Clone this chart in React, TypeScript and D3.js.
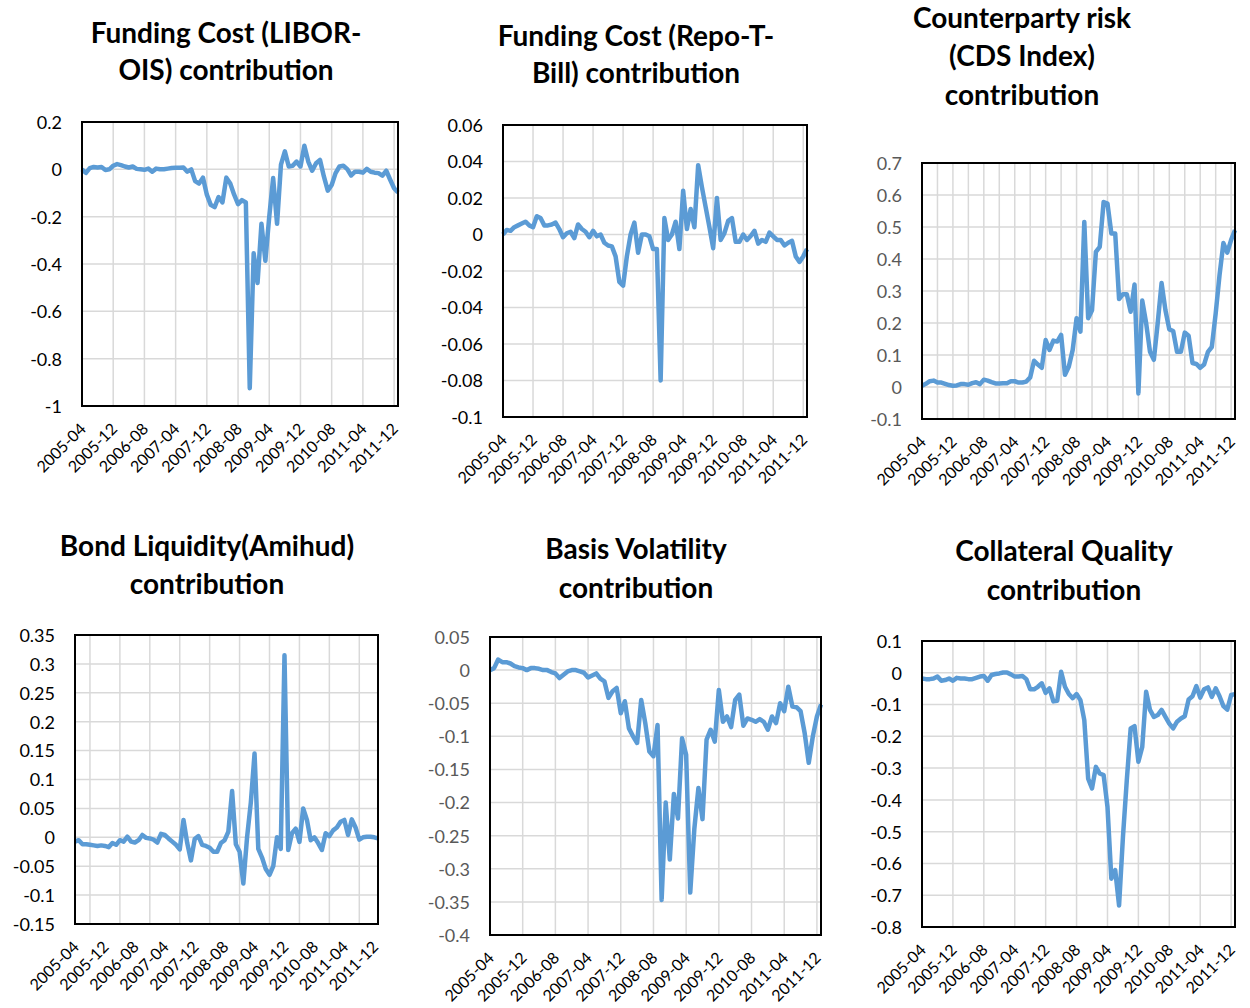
import React, { useEffect, useRef } from "react";
import * as d3 from "d3";

// monthly observations, 2005-04 .. 2012-01
const xTickLabels = [
  "2005-04", "2005-12", "2006-08", "2007-04", "2007-12", "2008-08",
  "2009-04", "2009-12", "2010-08", "2011-04", "2011-12",
];

const liborOis = [
  0, -0.015, 0.005, 0.01, 0.008, 0.01, -0.003, 0.0, 0.015, 0.022,
  0.018, 0.012, 0.008, 0.012, 0.002, 0.0, -0.002, 0.003, -0.01, 0.003,
  0.0, 0.0, 0.003, 0.006, 0.007, 0.007, 0.008, -0.01, 0.0, -0.05,
  -0.06, -0.035, -0.107, -0.15, -0.16, -0.117, -0.14, -0.035, -0.06, -0.107,
  -0.147, -0.13, -0.14, -0.925, -0.355, -0.48, -0.23, -0.386, -0.2, -0.037,
  -0.23, 0.02, 0.076, 0.012, 0.015, 0.033, 0.012, 0.1, 0.033, -0.006,
  0.026, 0.04, -0.03, -0.09, -0.066, -0.016, 0.012, 0.015, 0.001, -0.026,
  -0.01, -0.01, -0.014, 0.002, -0.01, -0.014, -0.016, -0.027, -0.006, -0.044,
  -0.08, -0.098,
];

const repoTbill = [
  0.0, 0.0025, 0.002, 0.004, 0.005, 0.006, 0.007, 0.005, 0.004, 0.01,
  0.009, 0.005, 0.005, 0.0055, 0.0065, 0.003, -0.0015, 0.0007, 0.0015, -0.002,
  0.0055, 0.003, 0.0015, -0.0015, 0.002, -0.001, 0.0, -0.0045, -0.006, -0.0065,
  -0.012, -0.026, -0.028, -0.012, 0.0, 0.0065, -0.01, 0.0, 0.0, -0.001,
  -0.008, -0.008, -0.08, 0.009, -0.003, 0.0, 0.007, -0.008, 0.024, 0.003,
  0.014, 0.004, 0.038, 0.026, 0.015, 0.004, -0.0075, 0.02, -0.003, 0.0007,
  0.0075, 0.009, -0.004, -0.004, 0.0, -0.003, -0.0008, 0.002, -0.005, -0.003,
  -0.004, 0.001, -0.001, -0.003, -0.003, -0.006, -0.0045, -0.0035, -0.012, -0.015,
  -0.012, -0.008,
];

const cdsIndex = [
  0.004, 0.01, 0.018, 0.02, 0.014, 0.014, 0.01, 0.006, 0.004, 0.005,
  0.009, 0.009, 0.007, 0.012, 0.015, 0.009, 0.023, 0.02, 0.015, 0.011,
  0.011, 0.012, 0.012, 0.018, 0.018, 0.014, 0.014, 0.017, 0.03, 0.082,
  0.07, 0.06, 0.147, 0.116, 0.145, 0.142, 0.163, 0.038, 0.064, 0.116,
  0.215, 0.173, 0.516, 0.215, 0.24, 0.422, 0.438, 0.578, 0.573, 0.48,
  0.48, 0.275, 0.29, 0.29, 0.235, 0.32, -0.02, 0.27, 0.2, 0.11,
  0.085, 0.2, 0.325, 0.24, 0.18, 0.175, 0.11, 0.11, 0.17, 0.16,
  0.075, 0.072, 0.06, 0.07, 0.11, 0.125, 0.23, 0.35, 0.45, 0.42,
  0.46, 0.49,
];

const amihud = [
  -0.0075, -0.005, -0.012, -0.012, -0.013, -0.014, -0.015, -0.014, -0.015, -0.017,
  -0.01, -0.013, -0.005, -0.0075, 0.001, -0.0075, -0.009, -0.005, 0.004, -0.001,
  -0.002, -0.004, -0.009, 0.006, 0.004, -0.002, -0.0075, -0.013, -0.021, 0.03,
  -0.01, -0.04, -0.003, 0.002, -0.013, -0.015, -0.018, -0.025, -0.025, -0.01,
  -0.005, 0.01, 0.08, -0.012, -0.025, -0.08, 0.0, 0.06, 0.145, -0.02,
  -0.035, -0.055, -0.065, -0.05, 0.0, -0.02, 0.315, -0.022, 0.007, 0.015,
  -0.008, 0.05, 0.03, -0.005, 0.0, -0.01, -0.022, 0.007, 0.002, 0.012,
  0.017, 0.027, 0.03, 0.004, 0.031, 0.017, -0.004, 0.0, 0.001, 0.001,
  0.0, -0.002,
];

const basisVol = [
  0.0, 0.003, 0.016, 0.012, 0.012, 0.01, 0.006, 0.004, 0.003, 0.0,
  0.003, 0.003, 0.002, 0.0, 0.0, -0.003, -0.005, -0.012, -0.007, -0.002,
  0.0, 0.0, -0.002, -0.004, -0.011, -0.008, -0.005, -0.013, -0.017, -0.042,
  -0.032, -0.027, -0.065, -0.047, -0.088, -0.1, -0.11, -0.045, -0.08, -0.123,
  -0.13, -0.083, -0.347, -0.2, -0.286, -0.187, -0.224, -0.103, -0.128, -0.336,
  -0.24, -0.178, -0.225, -0.105, -0.09, -0.108, -0.03, -0.078, -0.07, -0.086,
  -0.045, -0.037, -0.084, -0.073, -0.075, -0.078, -0.074, -0.078, -0.09, -0.07,
  -0.08, -0.05, -0.062, -0.025, -0.055, -0.056, -0.062, -0.095, -0.14, -0.1,
  -0.07, -0.052,
];

const collateral = [
  -0.018, -0.02, -0.02, -0.018, -0.012, -0.025, -0.023, -0.018, -0.025, -0.016,
  -0.018, -0.018, -0.02, -0.02, -0.016, -0.012, -0.01, -0.025, -0.007, -0.004,
  -0.002, 0.001, 0.001, -0.005, -0.012, -0.012, -0.01, -0.02, -0.052, -0.052,
  -0.044, -0.033, -0.063, -0.049, -0.09, -0.088, 0.003, -0.044, -0.067, -0.08,
  -0.067, -0.086, -0.149, -0.333, -0.364, -0.296, -0.317, -0.322, -0.422, -0.648,
  -0.621, -0.732, -0.517, -0.338, -0.175, -0.168, -0.28, -0.233, -0.06, -0.117,
  -0.139, -0.133, -0.117, -0.139, -0.16, -0.175, -0.154, -0.144, -0.137, -0.084,
  -0.074, -0.042, -0.078, -0.052, -0.046, -0.076, -0.049, -0.074, -0.105, -0.116,
  -0.07, -0.067,
];

const FONT = "Lato, 'Open Sans', sans-serif";

const charts = [
  { title: ["Funding Cost (LIBOR-", "OIS) contribution"], tx: 226, ty: [43, 80],
    values: liborOis, box: [82, 398, 122, 406], y: [-1, 0.2], step: 0.2,
    grid: 8, gridOff: 0, labelColor: "#000" },
  { title: ["Funding Cost (Repo-T-", "Bill) contribution"], tx: 636, ty: [46, 83],
    values: repoTbill, box: [503, 807, 125, 417], y: [-0.1, 0.06], step: 0.02,
    grid: 8, gridOff: 0, labelColor: "#000" },
  { title: ["Counterparty risk", "(CDS Index)", "contribution"], tx: 1022, ty: [28, 66, 105],
    values: cdsIndex, box: [922, 1235, 163, 419], y: [-0.1, 0.7], step: 0.1,
    grid: 4, gridOff: 0, labelColor: "#595959" },
  { title: ["Bond Liquidity(Amihud)", "contribution"], tx: 207, ty: [556, 594],
    values: amihud, box: [75, 378, 635, 924], y: [-0.15, 0.35], step: 0.05,
    grid: 8, gridOff: 4, labelColor: "#000" },
  { title: ["Basis Volatility", "contribution"], tx: 636, ty: [559, 598],
    values: basisVol, box: [490, 821, 637, 935], y: [-0.4, 0.05], step: 0.05,
    grid: 8, gridOff: 0, labelColor: "#595959" },
  { title: ["Collateral Quality", "contribution"], tx: 1064, ty: [561, 600],
    values: collateral, box: [922, 1235, 641, 927], y: [-0.8, 0.1], step: 0.1,
    grid: 8, gridOff: 0, labelColor: "#000" },
];

const App = () => {
  const svgRef = useRef<SVGSVGElement>(null);

  useEffect(() => {
    const svg = d3.select(svgRef.current);
    svg.selectAll("*").remove();

    charts.forEach((c) => {
      const [left, right, top, bottom] = c.box;
      const g = svg.append("g");
      const n = c.values.length;

      const x = d3.scaleLinear().domain([0, n - 1]).range([left, right]);
      const y = d3.scaleLinear().domain(c.y).range([bottom, top]);

      // title
      c.title.forEach((t, i) => {
        g.append("text")
          .attr("x", c.tx)
          .attr("y", c.ty[i])
          .attr("text-anchor", "middle")
          .attr("font-family", FONT)
          .attr("font-weight", 700)
          .attr("font-size", 28)
          .attr("fill", "#000")
          .text(t);
      });

      // horizontal grid + y labels
      const count = Math.round((c.y[1] - c.y[0]) / c.step);
      const yTicks = d3.range(count + 1).map((k) => +(c.y[0] + k * c.step).toFixed(4));
      yTicks.forEach((v) => {
        g.append("line")
          .attr("x1", left).attr("x2", right)
          .attr("y1", y(v)).attr("y2", y(v))
          .attr("stroke", "#d9d9d9").attr("stroke-width", 1.5);
        g.append("text")
          .attr("x", left - 20)
          .attr("y", y(v))
          .attr("dy", "0.38em")
          .attr("text-anchor", "end")
          .attr("font-family", FONT)
          .attr("font-size", 18)
          .attr("fill", c.labelColor)
          .text(String(v));
      });

      // vertical grid
      for (let i = c.gridOff; i < n; i += c.grid) {
        if (i === 0) continue;
        g.append("line")
          .attr("x1", x(i)).attr("x2", x(i))
          .attr("y1", top).attr("y2", bottom)
          .attr("stroke", "#d9d9d9").attr("stroke-width", 1.5);
      }

      // x labels, every 8 months
      xTickLabels.forEach((lab, k) => {
        const px = x(k * 8) + 5;
        const py = bottom + 24;
        g.append("text")
          .attr("transform", `translate(${px},${py}) rotate(-45)`)
          .attr("text-anchor", "end")
          .attr("font-family", FONT)
          .attr("font-size", 16)
          .attr("fill", "#000")
          .text(lab);
      });

      // series line
      const line = d3
        .line<number>()
        .x((_, i) => x(i))
        .y((d) => y(d));
      g.append("path")
        .datum(c.values)
        .attr("d", line)
        .attr("fill", "none")
        .attr("stroke", "#5b9bd5")
        .attr("stroke-width", 4.5)
        .attr("stroke-linejoin", "round");

      // plot border
      g.append("rect")
        .attr("x", left).attr("y", top)
        .attr("width", right - left).attr("height", bottom - top)
        .attr("fill", "none")
        .attr("stroke", "#000")
        .attr("stroke-width", 2);
    });
  }, []);

  return (
    <svg
      ref={svgRef}
      width={1250}
      height={1008}
      style={{ position: "absolute", left: 0, top: 0, background: "#fff" }}
    />
  );
};

export default App;
